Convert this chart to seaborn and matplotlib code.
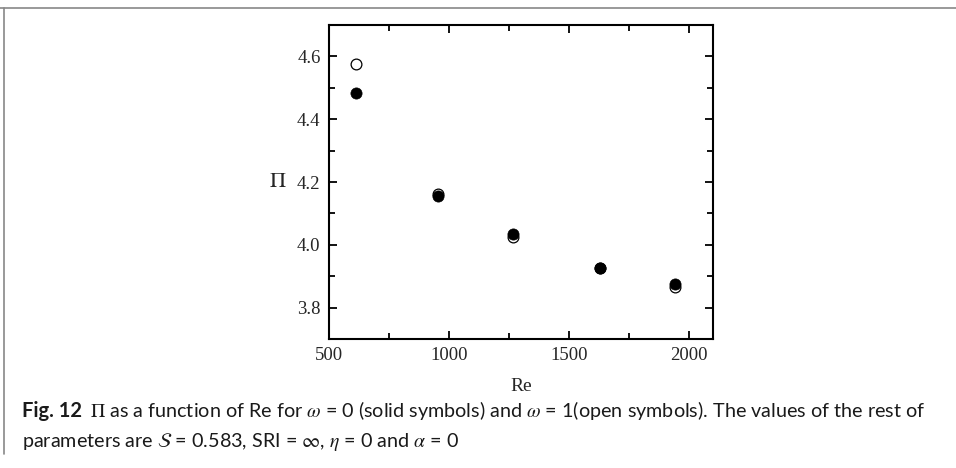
import matplotlib
matplotlib.use("Agg")
import matplotlib.pyplot as plt
from matplotlib.lines import Line2D
from matplotlib.ticker import MultipleLocator, FormatStrFormatter
import pandas as pd
import seaborn as sns

# datos
re_vals = [615, 953, 1268, 1627, 1943]
pi_solid = [4.484, 4.157, 4.035, 3.927, 3.874]   # omega = 0
pi_open = [4.575, 4.161, 4.025, 3.926, 3.866]    # omega = 1

df = pd.DataFrame({"Re": re_vals * 2,
                   "Pi": pi_open + pi_solid,
                   "omega": ["1"] * 5 + ["0"] * 5})

sns.set_theme(style="ticks")
plt.rcParams["font.family"] = ["Liberation Serif", "DejaVu Serif"]
plt.rcParams["mathtext.fontset"] = "stix"

fig = plt.figure(figsize=(9.56, 4.68), dpi=100)
ax = fig.add_axes([0.344, 0.2756, 0.402, 0.671])

sns.scatterplot(data=df[df.omega == "1"], x="Re", y="Pi", ax=ax, s=60,
                facecolor="white", edgecolor="black", linewidth=0.9, zorder=2)
sns.scatterplot(data=df[df.omega == "0"], x="Re", y="Pi", ax=ax, s=65,
                color="black", edgecolor="black", linewidth=0.5, zorder=3)

ax.set_xlim(500, 2100)
ax.set_ylim(3.7, 4.7)
ax.xaxis.set_major_locator(MultipleLocator(500))
ax.xaxis.set_minor_locator(MultipleLocator(250))
ax.yaxis.set_major_locator(MultipleLocator(0.2))
ax.yaxis.set_minor_locator(MultipleLocator(0.1))
ax.yaxis.set_major_formatter(FormatStrFormatter("%.1f"))
ax.tick_params(which="both", direction="in", top=True, right=True,
               labelsize=13.5, color="black", width=1.3, pad=6)
ax.tick_params(which="major", length=6)
ax.tick_params(which="minor", length=4)
for s in ax.spines.values():
    s.set_linewidth(1.5)
    s.set_color("black")

ax.set_xlabel("Re", fontsize=14, labelpad=10)
ax.set_ylabel(r"$\Pi$", fontsize=16, rotation=0, labelpad=14, va="center")

# marco del pie de figura
fig.add_artist(Line2D([0, 1], [0.983, 0.983], color="#888888", lw=1.2,
                      transform=fig.transFigure))
fig.add_artist(Line2D([0.004, 0.004], [0.983, 0.03], color="#888888", lw=1.2,
                      transform=fig.transFigure))

cap_font = ["Lato", "DejaVu Sans"]
cap_size = 14.2
y1, y2 = 0.110, 0.045
t1 = fig.text(0.023, y1, "Fig. 12", family=cap_font, weight="bold",
              fontsize=cap_size + 0.3, va="baseline", color="#1a1a1a")
fig.canvas.draw()
bb = t1.get_window_extent().transformed(fig.transFigure.inverted())
fig.text(bb.x1 + 0.008, y1,
         r"$\Pi$ as a function of Re for $\omega$ = 0 (solid symbols) and $\omega$ = 1(open symbols). "
         "The values of the rest of",
         family=cap_font, fontsize=cap_size, va="baseline", color="#1a1a1a")
fig.text(0.023, y2,
         r"parameters are $\mathcal{S}$ = 0.583, SRI = $\infty$, $\eta$ = 0 and $\alpha$ = 0",
         family=cap_font, fontsize=cap_size, va="baseline", color="#1a1a1a")

plt.savefig("out.png", dpi=100)
